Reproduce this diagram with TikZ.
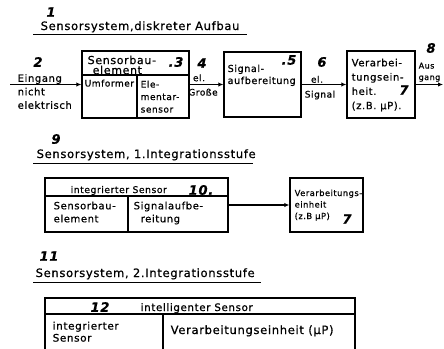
\documentclass[tikz,border=0pt]{standalone}
\usepackage{fontspec}
\setmainfont{DejaVu Sans}[LetterSpace=6, FakeBold=0.7]
\usetikzlibrary{arrows.meta}
\newcommand{\tsize}[2]{\fontsize{#1}{#2}\selectfont}

\begin{document}
\begin{tikzpicture}[x=1pt, y=-1pt, line width=1.4pt, >={Latex[length=5pt,width=4.5pt]}]
            \useasboundingbox (0,0) rectangle (444,348);
            % Nummern
            \begin{scope}[every node/.style={inner sep=0pt, font=\tsize{13}{13}\bfseries\itshape}]
            \node (n1) at (51,12) {1};
            \node (n2) at (38,62) {2};
            \node (n3) at (176,62) {.3};
            \node (n4) at (202,63) {4};
            \node (n5) at (289,60) {.5};
            \node (n6) at (322,62) {6};
            \node (n7) at (404,90) {7};
            \node (n8) at (431,48) {8};
            \node (n9) at (56,139) {9};
            \node (n10) at (201,190) {10.};
            \node (n7b) at (347,219) {7};
            \node (n11) at (49,256) {11};
            \node (n12) at (100,307) {12};
            \end{scope}
            % Ueberschriften
            \begin{scope}[every node/.style={inner sep=0pt, anchor=base west, font=\tsize{11.5}{12}}]
            \node (t1) at (40,30) {Sensorsystem,diskreter Aufbau};
            \node (t2) at (36,158) {Sensorsystem, 1.Integrationsstufe};
            \node (t3) at (35,277) {Sensorsystem, 2.Integrationsstufe};
            \end{scope}
            \draw[line width=1pt] (33,34.5) -- (247,34.5);
            \draw[line width=1pt] (33,163) -- (253,163);
            \draw[line width=1pt] (33,282) -- (261,282);
            % Kaesten
            \begin{scope}[every node/.style={draw, rectangle, inner sep=0pt}]
            \node[minimum width=107pt, minimum height=67pt] (b1) at (135.5,84.5) {};
            \node[minimum width=77pt, minimum height=65pt] (b2) at (262.5,84.5) {};
            \node[minimum width=68pt, minimum height=67pt] (b3) at (381,84.5) {};
            \node[minimum width=183pt, minimum height=54pt] (bA) at (136.5,205) {};
            \node[minimum width=73pt, minimum height=54pt] (bB) at (326.5,205) {};
            \end{scope}
            \draw (82,75) -- (189,75);
            \draw (137,75) -- (137,118);
            \draw (45,196) -- (228,196);
            \draw (128,196) -- (128,232);
            \draw (45,352) -- (45,298) -- (355,298) -- (355,352);
            \draw (45,314) -- (355,314);
            \draw (163,314) -- (163,352);
            % Texte
            \begin{scope}[every node/.style={inner sep=0pt, align=left}]
            \node[anchor=north west, font=\tsize{10}{13.5}] (ein) at (17,73.5) {Eingang\\nicht\\elektrisch};
            \node[anchor=north west, font=\tsize{11}{10}] (sbe) at (87,55) {Sensorbau-\\\hspace*{5pt}element};
            \node[anchor=north west, font=\tsize{9}{12}] (umf) at (84,79) {Umformer};
            \node[anchor=north west, font=\tsize{9}{12.5}] (ele) at (140,80) {Ele-\\mentar-\\sensor};
            \node[anchor=north west, font=\tsize{9.6}{12}] (sig) at (227,64) {Signal-\\aufbereitung};
            \node[anchor=north west, font=\tsize{10}{14.3}] (ver) at (351,58) {Verarbei-\\tungsein-\\heit.\\(z.B. μP).};
            \node[anchor=south, font=\tsize{9}{10}] (el1) at (199,82) {el.};
            \node[anchor=north, font=\tsize{9}{10}] (gr) at (203,88) {Große};
            \node[anchor=south, font=\tsize{9}{10}] (el2) at (317,83.5) {el.};
            \node[anchor=north, font=\tsize{9}{10}] (sgn) at (320,90) {Signal};
            \node[anchor=north west, font=\tsize{8}{11.5}] (aus) at (418,62) {Aus\\gang};
            \node[anchor=base west, font=\tsize{9.2}{10}] (ins) at (70,193) {integrierter Sensor};
            \node[anchor=north west, font=\tsize{10}{13}] (sbA) at (53,201) {Sensorbau-\\element};
            \node[anchor=north west, font=\tsize{10}{13}] (saA) at (133,201) {Signalaufbe-\\\hspace*{7pt}reitung};
            \node[anchor=north west, font=\tsize{8.3}{11.5}] (veB) at (294,189) {Verarbeitungs-\\einheit\\(z.B μP)};
            \node[anchor=base west, font=\tsize{10.3}{11}] (ints) at (140,311) {intelligenter Sensor};
            \node[anchor=north west, font=\tsize{10.4}{12}] (iSe) at (52,321) {integrierter\\Sensor};
            \node[anchor=base west, font=\tsize{11.5}{12}] (veC) at (170,334) {Verarbeitungseinheit (μP)};
            \end{scope}
            % Verbindungen
            \coordinate (in) at (10,84.5);
            \coordinate (out) at (443,84.5);
            \begin{scope}[every edge/.style={draw, line width=1.4pt, ->}]
            \draw (in) edge (b1);
            \draw (b1) edge (b2);
            \draw (b2) edge (b3);
            \draw (b3) edge (out);
            \draw (bA) edge (bB);
            \end{scope}
\end{tikzpicture}
\end{document}
